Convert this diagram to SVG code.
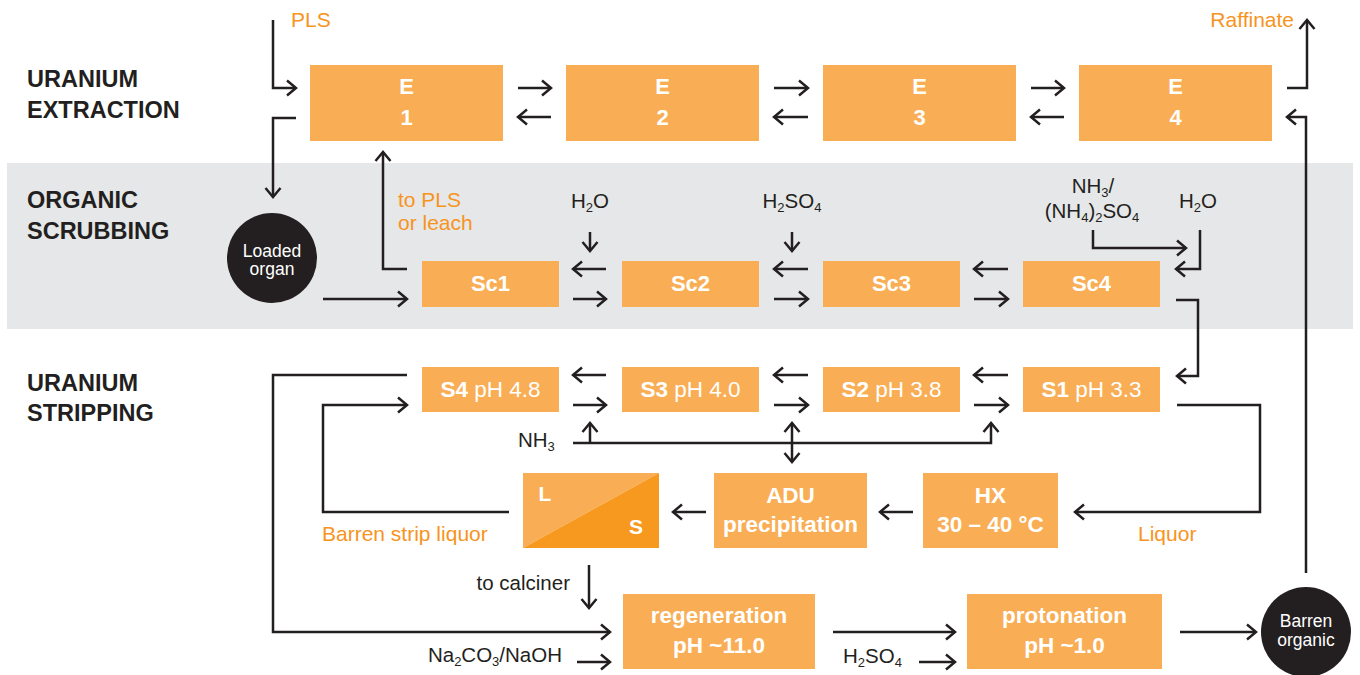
<svg xmlns="http://www.w3.org/2000/svg" width="1360" height="675" viewBox="0 0 1360 675">
<style>
.box{fill:#f9ae55}
.bt{font-family:"Liberation Sans",Arial,sans-serif;font-weight:bold;fill:#fff;text-anchor:middle}
.bn{font-weight:normal}
.sec{font-family:"Liberation Sans",Arial,sans-serif;font-weight:bold;font-size:23.5px;fill:#231f20}
.lab{font-family:"Liberation Sans",Arial,sans-serif;font-size:20.5px;fill:#231f20}
.or{font-family:"Liberation Sans",Arial,sans-serif;font-size:21px;fill:#f7941d}
.ct{font-family:"Liberation Sans",Arial,sans-serif;font-size:17.5px;fill:#fff;text-anchor:middle}
.c path{fill:none;stroke:#231f20;stroke-width:2.5;stroke-linejoin:miter}
.ar{marker-end:url(#ah)}
</style>
<defs>
<marker id="ah" viewBox="-12 -10 14 20" markerWidth="14" markerHeight="20" refX="0" refY="0" orient="auto-start-reverse" markerUnits="userSpaceOnUse">
<path d="M-9,-7.5 L0,0 L-9,7.5" fill="none" stroke="#231f20" stroke-width="2.5"/>
</marker>
</defs>
<rect x="7" y="163" width="1346" height="166" fill="#e6e7e8"/>

<g id="section-labels">
<text class="sec" x="27" y="87">URANIUM</text>
<text class="sec" x="27" y="118">EXTRACTION</text>
<text class="sec" x="27" y="208">ORGANIC</text>
<text class="sec" x="27" y="239">SCRUBBING</text>
<text class="sec" x="27" y="391">URANIUM</text>
<text class="sec" x="27" y="421">STRIPPING</text>
</g>

<g id="E1"><rect class="box" x="310" y="65" width="193" height="76"/><text class="bt" font-size="22" x="406.5" y="94">E</text><text class="bt" font-size="22" x="406.5" y="125">1</text></g>
<g id="E2"><rect class="box" x="566" y="65" width="193" height="76"/><text class="bt" font-size="22" x="662.5" y="94">E</text><text class="bt" font-size="22" x="662.5" y="125">2</text></g>
<g id="E3"><rect class="box" x="823" y="65" width="193" height="76"/><text class="bt" font-size="22" x="919.5" y="94">E</text><text class="bt" font-size="22" x="919.5" y="125">3</text></g>
<g id="E4"><rect class="box" x="1079" y="65" width="193" height="76"/><text class="bt" font-size="22" x="1175.5" y="94">E</text><text class="bt" font-size="22" x="1175.5" y="125">4</text></g>

<g id="Sc1"><rect class="box" x="422" y="261" width="137" height="46"/><text class="bt" font-size="22" x="490.5" y="291">Sc1</text></g>
<g id="Sc2"><rect class="box" x="622" y="261" width="137" height="46"/><text class="bt" font-size="22" x="690.5" y="291">Sc2</text></g>
<g id="Sc3"><rect class="box" x="823" y="261" width="137" height="46"/><text class="bt" font-size="22" x="891.5" y="291">Sc3</text></g>
<g id="Sc4"><rect class="box" x="1023" y="261" width="137" height="46"/><text class="bt" font-size="22" x="1091.5" y="291">Sc4</text></g>

<g id="S4"><rect class="box" x="422" y="367" width="137" height="45"/><text class="bt" font-size="22.5" x="490.5" y="397">S4<tspan class="bn"> pH 4.8</tspan></text></g>
<g id="S3"><rect class="box" x="622" y="367" width="137" height="45"/><text class="bt" font-size="22.5" x="690.5" y="397">S3<tspan class="bn"> pH 4.0</tspan></text></g>
<g id="S2"><rect class="box" x="823" y="367" width="137" height="45"/><text class="bt" font-size="22.5" x="891.5" y="397">S2<tspan class="bn"> pH 3.8</tspan></text></g>
<g id="S1"><rect class="box" x="1023" y="367" width="137" height="45"/><text class="bt" font-size="22.5" x="1091.5" y="397">S1<tspan class="bn"> pH 3.3</tspan></text></g>

<g id="LS">
<polygon points="523,473 659,473 523,548" fill="#f9ae55"/>
<polygon points="659,473 659,548 523,548" fill="#f7981f"/>
<text class="bt" font-size="21" x="545" y="501">L</text>
<text class="bt" font-size="21" x="636" y="534">S</text>
</g>
<g id="ADU"><rect class="box" x="714" y="473" width="153" height="75"/><text class="bt" font-size="22.5" x="790.5" y="503">ADU</text><text class="bt" font-size="22.5" x="790.5" y="532">precipitation</text></g>
<g id="HX"><rect class="box" x="923" y="473" width="135" height="75"/><text class="bt" font-size="22.5" x="990.5" y="503">HX</text><text class="bt" font-size="22.5" x="990.5" y="532">30 – 40 °C</text></g>
<g id="regeneration"><rect class="box" x="623" y="594" width="192" height="75"/><text class="bt" font-size="22.5" x="719" y="623">regeneration</text><text class="bt" font-size="22.5" x="719" y="653">pH ~11.0</text></g>
<g id="protonation"><rect class="box" x="967" y="594" width="195" height="75"/><text class="bt" font-size="22.5" x="1064.5" y="623">protonation</text><text class="bt" font-size="22.5" x="1064.5" y="653">pH ~1.0</text></g>

<g id="loaded-organ"><circle cx="272" cy="258" r="45" fill="#231f20"/><text class="ct" x="272" y="257">Loaded</text><text class="ct" x="272" y="275">organ</text></g>
<g id="barren-organic"><circle cx="1306" cy="632" r="45" fill="#231f20"/><text class="ct" x="1306" y="627">Barren</text><text class="ct" x="1306" y="646">organic</text></g>

<g id="labels">
<text class="or" x="291" y="27">PLS</text>
<text class="or" x="1294" y="27" text-anchor="end">Raffinate</text>
<text class="or" x="398" y="207">to PLS</text>
<text class="or" x="398" y="230">or leach</text>
<text class="or" x="322" y="541">Barren strip liquor</text>
<text class="or" x="1138" y="541">Liquor</text>
<text class="lab" x="590" y="208" text-anchor="middle">H<tspan font-size="13" dy="4">2</tspan><tspan dy="-4">O</tspan></text>
<text class="lab" x="792" y="208" text-anchor="middle">H<tspan font-size="13" dy="4">2</tspan><tspan dy="-4">SO</tspan><tspan font-size="13" dy="4">4</tspan></text>
<text class="lab" x="1093" y="193" text-anchor="middle">NH<tspan font-size="13" dy="4">3</tspan><tspan dy="-4">/</tspan></text>
<text class="lab" x="1092" y="218" text-anchor="middle">(NH<tspan font-size="13" dy="4">4</tspan><tspan dy="-4">)</tspan><tspan font-size="13" dy="4">2</tspan><tspan dy="-4">SO</tspan><tspan font-size="13" dy="4">4</tspan></text>
<text class="lab" x="1198" y="208" text-anchor="middle">H<tspan font-size="13" dy="4">2</tspan><tspan dy="-4">O</tspan></text>
<text class="lab" x="518" y="447">NH<tspan font-size="13" dy="4">3</tspan></text>
<text class="lab" x="570" y="590" text-anchor="end">to calciner</text>
<text class="lab" x="562" y="662" text-anchor="end">Na<tspan font-size="13" dy="4">2</tspan><tspan dy="-4">CO</tspan><tspan font-size="13" dy="4">3</tspan><tspan dy="-4">/NaOH</tspan></text>
<text class="lab" x="843" y="663">H<tspan font-size="13" dy="4">2</tspan><tspan dy="-4">SO</tspan><tspan font-size="13" dy="4">4</tspan></text>
</g>

<g id="connectors" class="c">
<path class="ar" d="M273,20 V88 H296"/>
<path class="ar" d="M518,88 H551"/>
<path class="ar" d="M551,117 H518"/>
<path class="ar" d="M774,88 H808"/>
<path class="ar" d="M808,117 H774"/>
<path class="ar" d="M1031,88 H1064"/>
<path class="ar" d="M1064,117 H1031"/>
<path class="ar" d="M1287,88 H1307 V20"/>
<path class="ar" d="M1306,573 V117 H1287"/>
<path class="ar" d="M296,118 H273 V197"/>
<path class="ar" d="M323,299 H407"/>
<path class="ar" d="M407,269 H383 V152"/>
<path class="ar" d="M606,269 H573"/>
<path class="ar" d="M573,299 H606"/>
<path class="ar" d="M808,269 H774"/>
<path class="ar" d="M774,299 H808"/>
<path class="ar" d="M1008,269 H974"/>
<path class="ar" d="M974,299 H1008"/>
<path class="ar" d="M590,232 V251"/>
<path class="ar" d="M792,232 V251"/>
<path class="ar" d="M1093,230 V248 H1186"/>
<path class="ar" d="M1200,230 V269 H1176"/>
<path class="ar" d="M1176,300 H1198 V376 H1177"/>
<path class="ar" d="M606,375 H573"/>
<path class="ar" d="M573,405 H606"/>
<path class="ar" d="M808,375 H774"/>
<path class="ar" d="M774,405 H808"/>
<path class="ar" d="M1008,375 H974"/>
<path class="ar" d="M974,405 H1008"/>
<path class="ar" d="M407,375 H273 V632 H610"/>
<path class="ar" d="M509,512 H323 V405 H407"/>
<path class="ar" d="M573,443 H991 V423"/>
<path class="ar" d="M590,443 V423"/>
<path class="ar" d="M792,423 V462" style="marker-start:url(#ah)"/>
<path class="ar" d="M1177,405 H1260 V512 H1075"/>
<path class="ar" d="M913,512 H880"/>
<path class="ar" d="M706,512 H673"/>
<path class="ar" d="M589,565 V608"/>
<path class="ar" d="M577,662 H610"/>
<path class="ar" d="M833,632 H955"/>
<path class="ar" d="M919,662 H955"/>
<path class="ar" d="M1180,632 H1256"/>
</g>
</svg>
